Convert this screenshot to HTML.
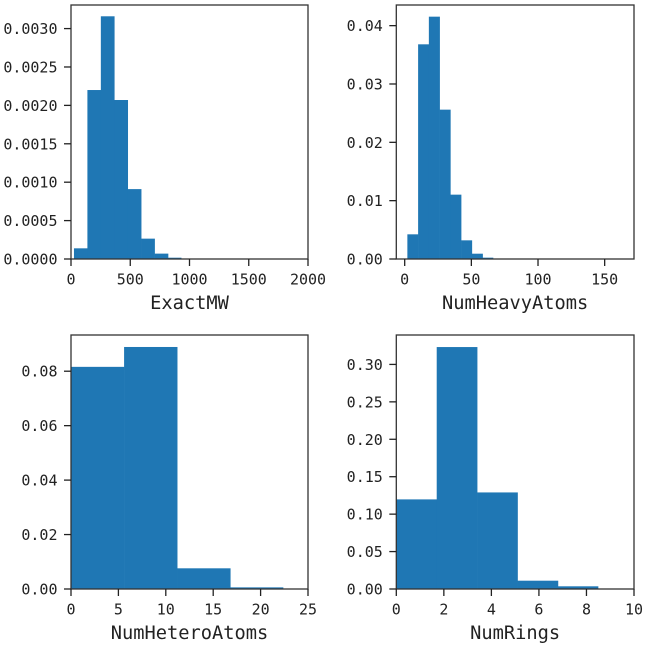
<!DOCTYPE html>
<html>
<head>
<meta charset="utf-8">
<style>
html,body{margin:0;padding:0;background:#fff;width:646px;height:647px;overflow:hidden}
svg{display:block;filter:blur(0.35px)}
text{font-family:"DejaVu Sans Mono","Liberation Mono",monospace;fill:#222}
</style>
</head>
<body>
<svg id="chart" width="646" height="647" viewBox="0 0 646 647" xmlns="http://www.w3.org/2000/svg"></svg>
<script>
var exactMwEdges = [25, 138.4, 251.8, 365.2, 478.6, 592, 705.4, 818.8, 932.2];
var exactMwValues = [0.000139, 0.00220, 0.00316, 0.00207, 0.00091, 0.000265, 0.00007, 0.000017];
var exactMwXTicks = [0, 500, 1000, 1500, 2000];
var exactMwYTicks = ["0.0000", "0.0005", "0.0010", "0.0015", "0.0020", "0.0025", "0.0030"];

var heavyEdges = [2, 10.06, 18.12, 26.18, 34.24, 42.3, 50.36, 58.42, 66.48];
var heavyValues = [0.00423, 0.0368, 0.04154, 0.0256, 0.01103, 0.0032, 0.00091, 0.00023];
var heavyXTicks = [0, 50, 100, 150];
var heavyYTicks = ["0.00", "0.01", "0.02", "0.03", "0.04"];

var heteroEdges = [0, 5.6, 11.2, 16.8, 22.4];
var heteroValues = [0.0816, 0.0889, 0.0076, 0.0006];
var heteroXTicks = [0, 5, 10, 15, 20, 25];
var heteroYTicks = ["0.00", "0.02", "0.04", "0.06", "0.08"];

var ringsEdges = [0, 1.7, 3.4, 5.1, 6.8, 8.5];
var ringsValues = [0.1197, 0.3232, 0.129, 0.0111, 0.0036];
var ringsXTicks = [0, 2, 4, 6, 8, 10];
var ringsYTicks = ["0.00", "0.05", "0.10", "0.15", "0.20", "0.25", "0.30"];

var svgNS = "http://www.w3.org/2000/svg";
var root = document.getElementById("chart");

function make(parent, tag, attrs) {
  var el = document.createElementNS(svgNS, tag);
  for (var k in attrs) { el.setAttribute(k, attrs[k]); }
  parent.appendChild(el);
  return el;
}

function drawPanel(cfg) {
  var g = make(root, "g", {});
  
  

  function sx(v) { return cfg.left + (v - cfg.xMin) / (cfg.xMax - cfg.xMin) * (cfg.right - cfg.left); }
  function sy(v) { return cfg.bottom - v / cfg.yMax * (cfg.bottom - cfg.top); }

  for (var i = 0; i < cfg.values.length; i++) {
    var x0 = sx(cfg.edges[i]);
    var x1 = sx(cfg.edges[i + 1]);
    var yTop = sy(cfg.values[i]);
    var bar = make(g, "rect", {
      x: x0, y: yTop, width: x1 - x0 + (i < cfg.values.length - 1 ? 0.3 : 0),
      height: cfg.bottom - yTop, fill: "#1f77b4"
    });
    
    
  }

  var frame = make(g, "rect", {
    x: cfg.left, y: cfg.top, width: cfg.right - cfg.left, height: cfg.bottom - cfg.top,
    fill: "none", stroke: "#333", "stroke-width": 1.3
  });
  
  

  cfg.xTicks.forEach(function (t) {
    var px = sx(t);
    var tick = make(g, "line", {
      x1: px, x2: px, y1: cfg.bottom, y2: cfg.bottom + 7,
      stroke: "#222", "stroke-width": 1.3
    });
    
    
    var label = make(g, "text", {
      x: px, y: cfg.bottom + 25.5, "text-anchor": "middle", "font-size": 15
    });
    label.textContent = String(t);
    
    
  });

  cfg.yTicks.forEach(function (t) {
    var py = sy(parseFloat(t));
    var tick = make(g, "line", {
      x1: cfg.left - 7, x2: cfg.left, y1: py, y2: py,
      stroke: "#222", "stroke-width": 1.3
    });
    
    
    var label = make(g, "text", {
      x: cfg.left - 13.5, y: py + 5.5, "text-anchor": "end", "font-size": 15
    });
    label.textContent = t;
    
    
  });

  var title = make(g, "text", {
    x: (cfg.left + cfg.right) / 2, y: cfg.bottom + 50,
    "text-anchor": "middle", "font-size": 18.7
  });
  title.textContent = cfg.label;
  
  
}

drawPanel({
  name: "exact-mw-histogram", label: "ExactMW",
  left: 71, right: 308, top: 5, bottom: 259,
  xMin: 0, xMax: 2000, yMax: 0.003307,
  edges: exactMwEdges, values: exactMwValues, xTicks: exactMwXTicks, yTicks: exactMwYTicks
});
drawPanel({
  name: "num-heavy-atoms-histogram", label: "NumHeavyAtoms",
  left: 396.3, right: 634, top: 5, bottom: 259,
  xMin: -6.3, xMax: 172, yMax: 0.04354,
  edges: heavyEdges, values: heavyValues, xTicks: heavyXTicks, yTicks: heavyYTicks
});
drawPanel({
  name: "num-hetero-atoms-histogram", label: "NumHeteroAtoms",
  left: 71, right: 308, top: 335, bottom: 589,
  xMin: 0, xMax: 25, yMax: 0.0933,
  edges: heteroEdges, values: heteroValues, xTicks: heteroXTicks, yTicks: heteroYTicks
});
drawPanel({
  name: "num-rings-histogram", label: "NumRings",
  left: 396.3, right: 634, top: 335, bottom: 589,
  xMin: 0, xMax: 10, yMax: 0.3393,
  edges: ringsEdges, values: ringsValues, xTicks: ringsXTicks, yTicks: ringsYTicks
});
</script>
</body>
</html>
